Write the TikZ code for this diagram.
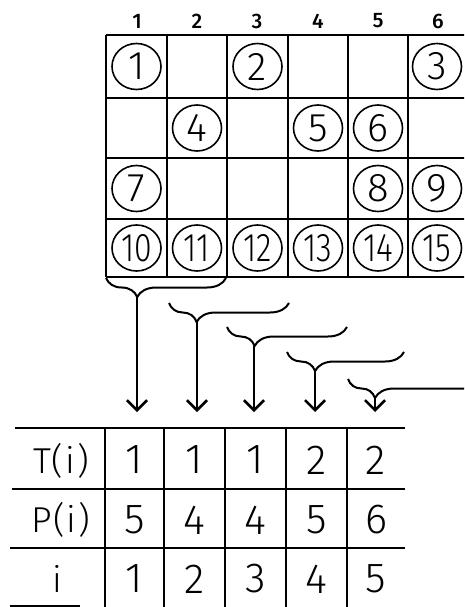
\documentclass[tikz,border=0pt]{standalone}
\usepackage{fontspec}
\setmainfont{Fira Sans Light}
\newfontfamily\labfont{Fira Sans}[UprightFont=* Medium]
\usetikzlibrary{arrows.meta,decorations.pathreplacing,shapes.geometric}
\begin{document}
\begin{tikzpicture}[x=1pt,y=-1pt,
  gridline/.style={line width=2.2pt},
  ring/.style={ellipse,draw,line width=1.6pt,minimum width=49pt,minimum height=46pt,inner sep=0pt,
    font=\fontsize{40}{40}\selectfont},
  collab/.style={font=\labfont\fontsize{21}{21}\selectfont},
  cellnum/.style={font=\fontsize{42}{42}\selectfont},
  rowlab/.style={font=\fontsize{36}{36}\selectfont},
  bracestyle/.style={line width=2pt,decorate,decoration={brace,mirror,amplitude=19pt,aspect=#1}},
  downarrow/.style={line width=2.2pt,-{Straight Barb[length=10pt,width=20pt,line width=2.6pt]}}]
\clip (0,0) rectangle (464,607);
\fill[white] (0,0) rectangle (464,607);
% column labels
\foreach \x/\t in {137/1,197/2,257/3,318/4,378/5,438/6}
  \node[collab] (c\t) at (\x,21) {\t};
% grid
\foreach \y in {35,98,158,219,277}
  \draw[gridline] (106,\y) -- (470,\y);
\foreach \x in {106,167,227,288,348,408}
  \draw[gridline] (\x,35) -- (\x,277);
% circles
\foreach \x/\y/\n in {136.5/66.5/1,257.5/66.5/2,437/66.5/3,197/128/4,318/128/5,378/128/6,136.5/188.5/7,378/188.5/8,437/188.5/9}
  \node[ring] (n\n) at (\x,\y) {\n};
\foreach \x/\n in {136.5/10,197/11,257.5/12,318/13,378/14,437/15}
  \node[ring] (n\n) at (\x,248) {\scalebox{0.8}[1]{\n}};
% braces
\draw[bracestyle=0.26] (106,278) -- (226,278);
\coordinate (b1) at (137,297);
\draw[bracestyle=0.23] (169,303) -- (289,303);
\coordinate (b2) at (197,322);
\draw[bracestyle=0.23] (227,327) -- (347,327);
\coordinate (b3) at (254,346);
\draw[bracestyle=0.24] (287,352) -- (404,352);
\coordinate (b4) at (315,371);
\draw[bracestyle=0.2] (348,379) -- (483,379);
\coordinate (b5) at (375,398);
% arrow ends
\foreach \i/\x in {1/137,2/197,3/254,4/315,5/375}
  \coordinate (e\i) at (\x,412);
\foreach \i in {1,...,5}
  \draw[downarrow] (b\i) -- (e\i);
% table
\draw[gridline] (15,428) -- (405,428);
\draw[gridline] (12,489) -- (405,489);
\draw[gridline] (10,548) -- (405,548);
\draw[gridline] (10,606) -- (80,606);
\foreach \x in {105,164,225,286,347}
  \draw[gridline] (\x,428) -- (\x,610);
\node[rowlab] (lt) at (61,461) {T\kern1pt(\kern2pt i\kern2pt)};
\node[rowlab] (lp) at (61,520) {P\kern1pt(\kern2pt i\kern2pt)};
\node[rowlab] (li) at (57,579) {i};
\foreach \x/\a/\b/\c [count=\k] in {134.5/1/5/1,194.5/1/4/2,255.5/1/4/3,316.5/2/5/4,376/2/6/5}{
  \node[cellnum] (t\k) at (\x,460) {\a};
  \node[cellnum] (p\k) at (\x,520) {\b};
  \node[cellnum] (i\k) at (\x,579) {\c};
}
\end{tikzpicture}
\end{document}
